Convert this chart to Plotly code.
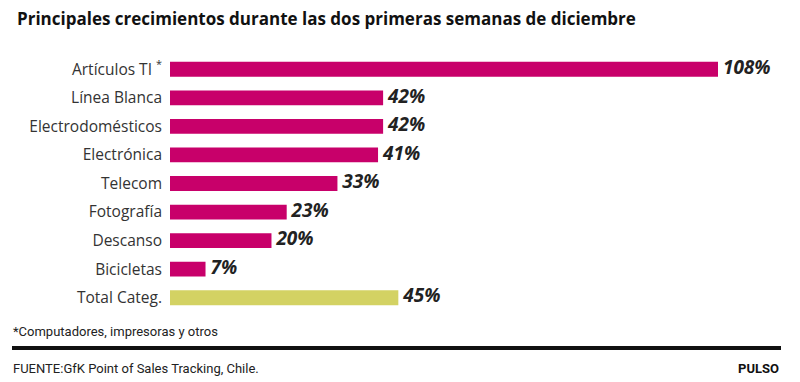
import plotly.graph_objects as go

categories = ["Artículos TI <sup>*</sup>", "Línea Blanca", "Electrodomésticos", "Electrónica",
              "Telecom", "Fotografía", "Descanso", "Bicicletas", "Total Categ."]
values = [108, 42, 42, 41, 33, 23, 20, 7, 45]
value_labels = ["108%", "42%", "42%", "41%", "33%", "23%", "20%", "7%", "45%"]
colors = ["#C8006A"] * 8 + ["#D3D263"]

W, H = 800, 382
L, R, T, B = 170, 82, 55, 70
pw, ph = W - L - R, H - T - B

def px(x):
    return (x - L) / pw

def py(y):
    return (H - B - y) / ph

fig = go.Figure()
fig.add_trace(go.Bar(
    x=values, y=categories, orientation="h",
    marker=dict(color=colors, line=dict(width=0)),
    width=0.52, hoverinfo="skip",
))
fig.add_trace(go.Scatter(
    x=values, y=categories, mode="text", text=[" " + v for v in value_labels],
    textposition="middle right",
    textfont=dict(family="Open Sans", size=19, color="#222222", style="italic", weight="bold"),
    cliponaxis=False, hoverinfo="skip",
))

fig.update_layout(
    width=W, height=H,
    margin=dict(l=L, r=R, t=T, b=B),
    paper_bgcolor="white", plot_bgcolor="white",
    showlegend=False,
    xaxis=dict(range=[0, 108], visible=False, fixedrange=True),
    yaxis=dict(autorange="reversed", showgrid=False, zeroline=False, showline=False,
               ticks="", ticklabelstandoff=7, fixedrange=True,
               tickfont=dict(family="Open Sans", size=15.5, color="#333333")),
    font=dict(family="Open Sans"),
)

fig.add_annotation(text="<b>Principales crecimientos durante las dos primeras semanas de diciembre</b>",
                   xref="paper", yref="paper", x=px(15), y=py(18), xanchor="left", yanchor="middle",
                   showarrow=False, font=dict(family="Open Sans", size=17, color="#111111"))
fig.add_annotation(text="*Computadores, impresoras y otros",
                   xref="paper", yref="paper", x=px(11), y=py(331), xanchor="left", yanchor="middle",
                   showarrow=False, font=dict(family="Liberation Sans Narrow, Roboto", size=13, color="#222222"))
fig.add_annotation(text="FUENTE:GfK Point of Sales Tracking, Chile.",
                   xref="paper", yref="paper", x=px(11), y=py(368), xanchor="left", yanchor="middle",
                   showarrow=False, font=dict(family="Liberation Sans Narrow, Roboto", size=13, color="#222222"))
fig.add_annotation(text="<b>PULSO</b>",
                   xref="paper", yref="paper", x=px(781), y=py(368), xanchor="right", yanchor="middle",
                   showarrow=False, font=dict(family="Liberation Sans Narrow, Roboto", size=13, color="#111111"))
fig.add_shape(type="line", xref="paper", yref="paper", x0=px(12), x1=px(781), y0=py(348), y1=py(348),
              line=dict(color="#111111", width=4))

fig.write_html("out.html", config={"displayModeBar": False},
               post_script="document.body.style.margin='0';")
